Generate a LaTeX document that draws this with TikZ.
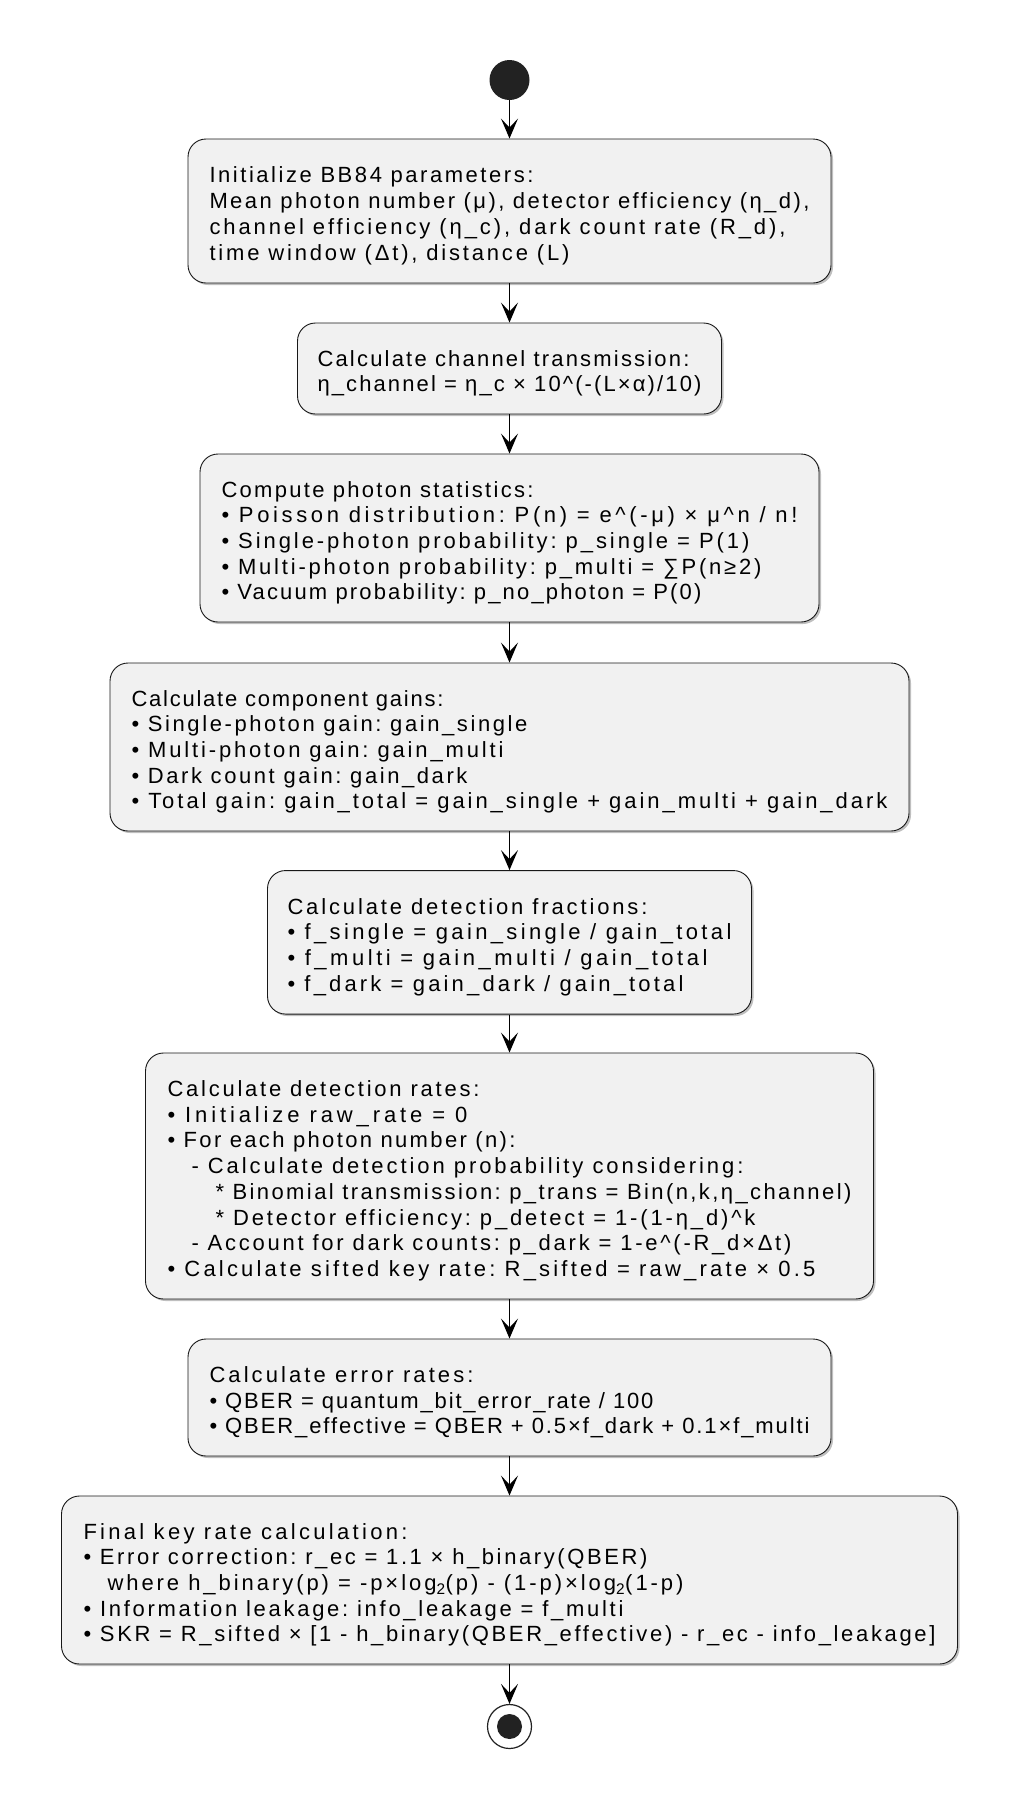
\documentclass[tikz,border=0pt]{standalone}
\usepackage{fontspec}
\setmainfont{Liberation Sans}
\usetikzlibrary{arrows.meta,shadows}
\definecolor{boxfill}{HTML}{F1F1F1}
\definecolor{boxline}{HTML}{181818}
\definecolor{dotfill}{HTML}{222222}
\newlength\fitwa
\newlength\fitwb
\newcommand\boxfontbase{\normalfont\fontsize{22}{25.7}\selectfont\frenchspacing}
% \fl{target width in pt}{line text}: set the line letter-spaced to the given width
\newcommand\fl[2]{{%
  \boxfontbase
  \settowidth\fitwa{#2}%
  \addfontfeatures{LetterSpace=10}%
  \settowidth\fitwb{#2}%
  \pgfmathsetmacro\fittmp{10*(#1-\fitwa)/(\fitwb-\fitwa)}%
  \boxfontbase
  \edef\fitx{\noexpand\addfontfeatures{LetterSpace=\fittmp}}\fitx
  #2}}
\newcommand\topstrut{\rule{0pt}{29pt}}
\newcommand\botstrut{\rule[-8pt]{0pt}{8pt}}
\tikzset{
  actbox/.style={draw=boxline, fill=boxfill, line width=0.9pt, rounded corners=18pt,
    align=left, inner xsep=12pt, inner ysep=0pt, font=\boxfontbase,
    drop shadow={shadow xshift=2pt,shadow yshift=-2pt,opacity=0.25,fill=black}},
  flow/.style={line width=1.7pt, draw=black, -{Stealth[length=20pt,width=17pt,inset=9pt]}},
  startdot/.style={circle, fill=dotfill, minimum size=40pt, inner sep=0pt},
  endring/.style={circle, draw=dotfill, fill=white, line width=1.2pt, minimum size=44pt, inner sep=0pt},
  enddot/.style={circle, fill=dotfill, minimum size=25pt, inner sep=0pt},
}
\begin{document}
\begin{tikzpicture}[x=1pt,y=-1pt]
\fill[white] (0,0) rectangle (1016,1810);
\useasboundingbox (0,0) rectangle (1016,1810);

\node[startdot] (start) at (509.5,80) {};

\node[actbox, minimum width=643pt, minimum height=144pt] (b1) at (509.5,211)
{\topstrut\fl{324}{Initialize BB84 parameters:}\\
\fl{600}{Mean photon number (μ), detector efficiency (η\_d),}\\
\fl{576}{channel efficiency (η\_c), dark count rate (R\_d),}\\
\fl{360}{time window (Δt), distance (L)}\botstrut};

\node[actbox, minimum width=424pt, minimum height=91pt] (b2) at (509.5,368.5)
{\topstrut\fl{372}{Calculate channel transmission:}\\
\fl{384}{η\_channel = η\_c × 10\textasciicircum(-(L×α)/10)}\botstrut};

\node[actbox, minimum width=619pt, minimum height=168pt] (b3) at (509.5,538)
{\topstrut\fl{312}{Compute photon statistics:}\\
\fl{576}{• Poisson distribution: P(n) = e\textasciicircum(-μ) × μ\textasciicircum n / n!}\\
\fl{528}{• Single-photon probability: p\_single = P(1)}\\
\fl{540}{• Multi-photon probability: p\_multi = ∑P(n≥2)}\\
\fl{480}{• Vacuum probability: p\_no\_photon = P(0)}\botstrut};

\node[actbox, minimum width=799pt, minimum height=168pt] (b4) at (509.5,747)
{\topstrut\fl{312}{Calculate component gains:}\\
\fl{396}{• Single-photon gain: gain\_single}\\
\fl{372}{• Multi-photon gain: gain\_multi}\\
\fl{336}{• Dark count gain: gain\_dark}\\
\fl{756}{• Total gain: gain\_total = gain\_single + gain\_multi + gain\_dark}\botstrut};

\node[actbox, minimum width=484pt, minimum height=143.5pt] (b5) at (509.5,942.3)
{\topstrut\fl{360}{Calculate detection fractions:}\\
\fl{444}{• f\_single = gain\_single / gain\_total}\\
\fl{420}{• f\_multi = gain\_multi / gain\_total}\\
\fl{396}{• f\_dark = gain\_dark / gain\_total}\botstrut};

\node[actbox, minimum width=728pt, minimum height=246pt] (b6) at (509.5,1176)
{\topstrut\fl{312}{Calculate detection rates:}\\
\fl{300}{• Initialize raw\_rate = 0}\\
\fl{348}{• For each photon number (n):}\\
\hspace*{24pt}\fl{552}{- Calculate detection probability considering:}\\
\hspace*{48pt}\fl{636}{* Binomial transmission: p\_trans = Bin(n,k,η\_channel)}\\
\hspace*{48pt}\fl{540}{* Detector efficiency: p\_detect = 1-(1-η\_d)\textasciicircum k}\\
\hspace*{24pt}\fl{600}{- Account for dark counts: p\_dark = 1-e\textasciicircum(-R\_d×Δt)}\\
\fl{648}{• Calculate sifted key rate: R\_sifted = raw\_rate × 0.5}\botstrut};

\node[actbox, minimum width=643pt, minimum height=117pt] (b7) at (509.5,1397.5)
{\topstrut\fl{264}{Calculate error rates:}\\
\fl{444}{• QBER = quantum\_bit\_error\_rate / 100}\\
\fl{600}{• QBER\_effective = QBER + 0.5×f\_dark + 0.1×f\_multi}\botstrut};

\node[actbox, minimum width=896pt, minimum height=168pt] (b8) at (509.5,1580)
{\topstrut\fl{324}{Final key rate calculation:}\\
\fl{564}{• Error correction: r\_ec = 1.1 × h\_binary(QBER)}\\
\hspace*{24pt}\fl{576}{where h\_binary(p) = -p×log\textsubscript{2}(p) - (1-p)×log\textsubscript{2}(1-p)}\\
\fl{540}{• Information leakage: info\_leakage = f\_multi}\\
\fl{852}{• SKR = R\_sifted × [1 - h\_binary(QBER\_effective) - r\_ec - info\_leakage]}\botstrut};

\node[endring] (end) at (509.5,1726.5) {};
\node[enddot] (endcore) at (end.center) {};

\draw[flow] (start) -- (b1.north);
\draw[flow] (b1) -- (b2.north);
\draw[flow] (b2) -- (b3.north);
\draw[flow] (b3) -- (b4.north);
\draw[flow] (b4) -- (b5.north);
\draw[flow] (b5) -- (b6.north);
\draw[flow] (b6) -- (b7.north);
\draw[flow] (b7) -- (b8.north);
\draw[flow] (b8) -- (end.north);
\end{tikzpicture}
\end{document}
